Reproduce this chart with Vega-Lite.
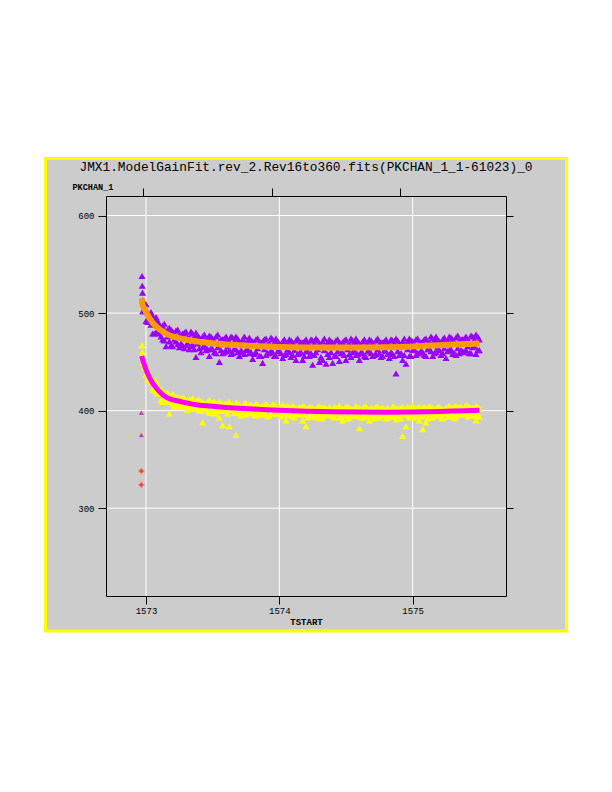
{
"$schema": "https://vega.github.io/schema/vega-lite/v6.json",
"width": 400, "height": 400,
"autosize": {"type": "none"},
"padding": {"left": 106, "top": 196, "right": 106, "bottom": 196},
"background": "white",
"title": {"text": "JMX1.ModelGainFit.rev_2.Rev16to360.fits(PKCHAN_1_1-61023)_0", "font": "Liberation Mono", "fontSize": 12.8, "fontWeight": "normal", "color": "black", "anchor": "middle", "baseline": "bottom", "offset": 15, "dy": 45},
"config": {"view": {"stroke": null}, "axis": {"domainColor": "black", "tickColor": "black", "labelColor": "black", "titleColor": "black", "grid": false, "domainWidth": 1, "tickWidth": 1}},
"datasets": {
"pu": [{"t":1572.97,"v":538},{"t":1572.972,"v":528},{"t":1572.974,"v":521},
{"t":1572.975,"v":513},{"t":1572.975,"v":502},{"t":1573.0,"v":509},{"t":1573.0,"v":492},{"t":1573.025,"v":498},{"t":1573.025,"v":491},{"t":1573.05,"v":497},{"t":1573.05,"v":479},{"t":1573.075,"v":496},{"t":1573.075,"v":480},{"t":1573.1,"v":488},{"t":1573.1,"v":479},{"t":1573.125,"v":487},{"t":1573.125,"v":473},{"t":1573.15,"v":481},{"t":1573.15,"v":466},{"t":1573.175,"v":485},{"t":1573.175,"v":471},{"t":1573.2,"v":481},{"t":1573.2,"v":466},{"t":1573.225,"v":482},{"t":1573.225,"v":471},{"t":1573.25,"v":477},{"t":1573.25,"v":465},{"t":1573.275,"v":479},{"t":1573.275,"v":467},{"t":1573.3,"v":481},{"t":1573.3,"v":467},{"t":1573.325,"v":475},{"t":1573.325,"v":463},{"t":1573.35,"v":479},{"t":1573.35,"v":468},{"t":1573.375,"v":480},{"t":1573.375,"v":455},{"t":1573.4,"v":475},{"t":1573.4,"v":464},{"t":1573.425,"v":476},{"t":1573.425,"v":465},{"t":1573.45,"v":472},{"t":1573.45,"v":462},{"t":1573.475,"v":477},{"t":1573.475,"v":456},{"t":1573.5,"v":474},{"t":1573.5,"v":463},{"t":1573.525,"v":476},{"t":1573.525,"v":459},{"t":1573.55,"v":471},{"t":1573.55,"v":450},{"t":1573.575,"v":473},{"t":1573.575,"v":459},{"t":1573.6,"v":476},{"t":1573.6,"v":461},{"t":1573.625,"v":471},{"t":1573.625,"v":462},{"t":1573.65,"v":475},{"t":1573.65,"v":459},{"t":1573.675,"v":476},{"t":1573.675,"v":463},{"t":1573.7,"v":471},{"t":1573.7,"v":456},{"t":1573.725,"v":473},{"t":1573.725,"v":460},{"t":1573.75,"v":469},{"t":1573.75,"v":462},{"t":1573.775,"v":475},{"t":1573.775,"v":459},{"t":1573.8,"v":471},{"t":1573.8,"v":453},{"t":1573.825,"v":473},{"t":1573.825,"v":460},{"t":1573.85,"v":469},{"t":1573.85,"v":456},{"t":1573.875,"v":471},{"t":1573.875,"v":449},{"t":1573.9,"v":474},{"t":1573.9,"v":457},{"t":1573.925,"v":469},{"t":1573.925,"v":459},{"t":1573.95,"v":473},{"t":1573.95,"v":460},{"t":1573.975,"v":474},{"t":1573.975,"v":456},{"t":1574.0,"v":469},{"t":1574.0,"v":461},{"t":1574.025,"v":471},{"t":1574.025,"v":454},{"t":1574.05,"v":467},{"t":1574.05,"v":458},{"t":1574.075,"v":473},{"t":1574.075,"v":460},{"t":1574.1,"v":470},{"t":1574.1,"v":457},{"t":1574.125,"v":472},{"t":1574.125,"v":452},{"t":1574.15,"v":468},{"t":1574.15,"v":459},{"t":1574.175,"v":470},{"t":1574.175,"v":452},{"t":1574.2,"v":473},{"t":1574.2,"v":461},{"t":1574.225,"v":468},{"t":1574.225,"v":456},{"t":1574.25,"v":472},{"t":1574.25,"v":447},{"t":1574.275,"v":474},{"t":1574.275,"v":460},{"t":1574.3,"v":469},{"t":1574.3,"v":450},{"t":1574.325,"v":471},{"t":1574.325,"v":452},{"t":1574.35,"v":467},{"t":1574.35,"v":448},{"t":1574.375,"v":473},{"t":1574.375,"v":455},{"t":1574.4,"v":470},{"t":1574.4,"v":449},{"t":1574.425,"v":472},{"t":1574.425,"v":456},{"t":1574.45,"v":468},{"t":1574.45,"v":451},{"t":1574.475,"v":470},{"t":1574.475,"v":459},{"t":1574.5,"v":473},{"t":1574.5,"v":452},{"t":1574.525,"v":468},{"t":1574.525,"v":458},{"t":1574.55,"v":472},{"t":1574.55,"v":460},{"t":1574.575,"v":474},{"t":1574.575,"v":457},{"t":1574.6,"v":469},{"t":1574.6,"v":452},{"t":1574.625,"v":471},{"t":1574.625,"v":459},{"t":1574.65,"v":467},{"t":1574.65,"v":455},{"t":1574.675,"v":473},{"t":1574.675,"v":461},{"t":1574.7,"v":470},{"t":1574.7,"v":456},{"t":1574.725,"v":472},{"t":1574.725,"v":458},{"t":1574.75,"v":468},{"t":1574.75,"v":459},{"t":1574.775,"v":470},{"t":1574.775,"v":456},{"t":1574.8,"v":473},{"t":1574.8,"v":461},{"t":1574.825,"v":468},{"t":1574.825,"v":454},{"t":1574.85,"v":472},{"t":1574.85,"v":458},{"t":1574.875,"v":474},{"t":1574.875,"v":438},{"t":1574.9,"v":469},{"t":1574.9,"v":457},{"t":1574.925,"v":471},{"t":1574.925,"v":452},{"t":1574.95,"v":468},{"t":1574.95,"v":448},{"t":1574.975,"v":474},{"t":1574.975,"v":456},{"t":1575.0,"v":471},{"t":1575.0,"v":462},{"t":1575.025,"v":473},{"t":1575.025,"v":457},{"t":1575.05,"v":469},{"t":1575.05,"v":459},{"t":1575.075,"v":471},{"t":1575.075,"v":460},{"t":1575.1,"v":474},{"t":1575.1,"v":456},{"t":1575.125,"v":470},{"t":1575.125,"v":463},{"t":1575.15,"v":474},{"t":1575.15,"v":456},{"t":1575.175,"v":476},{"t":1575.175,"v":460},{"t":1575.2,"v":471},{"t":1575.2,"v":462},{"t":1575.225,"v":473},{"t":1575.225,"v":459},{"t":1575.25,"v":469},{"t":1575.25,"v":454},{"t":1575.275,"v":476},{"t":1575.275,"v":462},{"t":1575.3,"v":473},{"t":1575.3,"v":458},{"t":1575.325,"v":475},{"t":1575.325,"v":457},{"t":1575.35,"v":471},{"t":1575.35,"v":459},{"t":1575.375,"v":473},{"t":1575.375,"v":461},{"t":1575.4,"v":476},{"t":1575.4,"v":462},{"t":1575.425,"v":471},{"t":1575.425,"v":459},{"t":1575.45,"v":476},{"t":1575.45,"v":465},{"t":1575.475,"v":478},{"t":1575.475,"v":458},{"t":1575.5,"v":473},{"t":1575.5,"v":462},
{"t":1572.9875,"v":511},{"t":1572.9875,"v":502},{"t":1573.0125,"v":501},{"t":1573.0125,"v":491},{"t":1573.0375,"v":501},{"t":1573.0375,"v":488},{"t":1573.0625,"v":492},{"t":1573.0625,"v":479},{"t":1573.0875,"v":492},{"t":1573.0875,"v":481},{"t":1573.1125,"v":484},{"t":1573.1125,"v":476},{"t":1573.1375,"v":489},{"t":1573.1375,"v":472},{"t":1573.1625,"v":483},{"t":1573.1625,"v":476},{"t":1573.1875,"v":483},{"t":1573.1875,"v":467},{"t":1573.2125,"v":479},{"t":1573.2125,"v":473},{"t":1573.2375,"v":483},{"t":1573.2375,"v":468},{"t":1573.2625,"v":478},{"t":1573.2625,"v":469},{"t":1573.2875,"v":480},{"t":1573.2875,"v":464},{"t":1573.3125,"v":475},{"t":1573.3125,"v":469},{"t":1573.3375,"v":481},{"t":1573.3375,"v":466},{"t":1573.3625,"v":476},{"t":1573.3625,"v":463},{"t":1573.3875,"v":477},{"t":1573.3875,"v":469},{"t":1573.4125,"v":473},{"t":1573.4125,"v":460},{"t":1573.4375,"v":478},{"t":1573.4375,"v":467},{"t":1573.4625,"v":474},{"t":1573.4625,"v":463},{"t":1573.4875,"v":476},{"t":1573.4875,"v":464},{"t":1573.5125,"v":471},{"t":1573.5125,"v":460},{"t":1573.5375,"v":478},{"t":1573.5375,"v":465},{"t":1573.5625,"v":473},{"t":1573.5625,"v":462},{"t":1573.5875,"v":474},{"t":1573.5875,"v":460},{"t":1573.6125,"v":471},{"t":1573.6125,"v":466},{"t":1573.6375,"v":476},{"t":1573.6375,"v":458},{"t":1573.6625,"v":471},{"t":1573.6625,"v":464},{"t":1573.6875,"v":474},{"t":1573.6875,"v":460},{"t":1573.7125,"v":469},{"t":1573.7125,"v":462},{"t":1573.7375,"v":476},{"t":1573.7375,"v":458},{"t":1573.7625,"v":472},{"t":1573.7625,"v":463},{"t":1573.7875,"v":472},{"t":1573.7875,"v":460},{"t":1573.8125,"v":469},{"t":1573.8125,"v":458},{"t":1573.8375,"v":474},{"t":1573.8375,"v":464},{"t":1573.8625,"v":470},{"t":1573.8625,"v":456},{"t":1573.8875,"v":473},{"t":1573.8875,"v":463},{"t":1573.9125,"v":468},{"t":1573.9125,"v":459},{"t":1573.9375,"v":475},{"t":1573.9375,"v":461},{"t":1573.9625,"v":470},{"t":1573.9625,"v":456},{"t":1573.9875,"v":471},{"t":1573.9875,"v":461},{"t":1574.0125,"v":468},{"t":1574.0125,"v":459},{"t":1574.0375,"v":473},{"t":1574.0375,"v":457},{"t":1574.0625,"v":469},{"t":1574.0625,"v":463},{"t":1574.0875,"v":472},{"t":1574.0875,"v":455},{"t":1574.1125,"v":467},{"t":1574.1125,"v":462},{"t":1574.1375,"v":474},{"t":1574.1375,"v":458},{"t":1574.1625,"v":470},{"t":1574.1625,"v":460},{"t":1574.1875,"v":471},{"t":1574.1875,"v":456},{"t":1574.2125,"v":468},{"t":1574.2125,"v":461},{"t":1574.2375,"v":473},{"t":1574.2375,"v":459},{"t":1574.2625,"v":469},{"t":1574.2625,"v":457},{"t":1574.2875,"v":472},{"t":1574.2875,"v":463},{"t":1574.3125,"v":467},{"t":1574.3125,"v":455},{"t":1574.3375,"v":474},{"t":1574.3375,"v":462},{"t":1574.3625,"v":470},{"t":1574.3625,"v":458},{"t":1574.3875,"v":471},{"t":1574.3875,"v":460},{"t":1574.4125,"v":468},{"t":1574.4125,"v":456},{"t":1574.4375,"v":473},{"t":1574.4375,"v":461},{"t":1574.4625,"v":469},{"t":1574.4625,"v":459},{"t":1574.4875,"v":472},{"t":1574.4875,"v":457},{"t":1574.5125,"v":467},{"t":1574.5125,"v":463},{"t":1574.5375,"v":474},{"t":1574.5375,"v":455},{"t":1574.5625,"v":470},{"t":1574.5625,"v":462},{"t":1574.5875,"v":471},{"t":1574.5875,"v":458},{"t":1574.6125,"v":468},{"t":1574.6125,"v":460},{"t":1574.6375,"v":473},{"t":1574.6375,"v":456},{"t":1574.6625,"v":469},{"t":1574.6625,"v":461},{"t":1574.6875,"v":472},{"t":1574.6875,"v":459},{"t":1574.7125,"v":467},{"t":1574.7125,"v":457},{"t":1574.7375,"v":474},{"t":1574.7375,"v":463},{"t":1574.7625,"v":470},{"t":1574.7625,"v":455},{"t":1574.7875,"v":471},{"t":1574.7875,"v":462},{"t":1574.8125,"v":468},{"t":1574.8125,"v":458},{"t":1574.8375,"v":473},{"t":1574.8375,"v":460},{"t":1574.8625,"v":469},{"t":1574.8625,"v":456},{"t":1574.8875,"v":472},{"t":1574.8875,"v":461},{"t":1574.9125,"v":467},{"t":1574.9125,"v":459},{"t":1574.9375,"v":474},{"t":1574.9375,"v":457},{"t":1574.9625,"v":470},{"t":1574.9625,"v":463},{"t":1574.9875,"v":472},{"t":1574.9875,"v":456},{"t":1575.0125,"v":469},{"t":1575.0125,"v":463},{"t":1575.0375,"v":474},{"t":1575.0375,"v":459},{"t":1575.0625,"v":470},{"t":1575.0625,"v":461},{"t":1575.0875,"v":473},{"t":1575.0875,"v":457},{"t":1575.1125,"v":469},{"t":1575.1125,"v":463},{"t":1575.1375,"v":476},{"t":1575.1375,"v":461},{"t":1575.1625,"v":472},{"t":1575.1625,"v":459},{"t":1575.1875,"v":473},{"t":1575.1875,"v":465},{"t":1575.2125,"v":470},{"t":1575.2125,"v":457},{"t":1575.2375,"v":475},{"t":1575.2375,"v":464},{"t":1575.2625,"v":472},{"t":1575.2625,"v":461},{"t":1575.2875,"v":475},{"t":1575.2875,"v":463},{"t":1575.3125,"v":470},{"t":1575.3125,"v":459},{"t":1575.3375,"v":477},{"t":1575.3375,"v":464},{"t":1575.3625,"v":473},{"t":1575.3625,"v":462},{"t":1575.3875,"v":474},{"t":1575.3875,"v":460},{"t":1575.4125,"v":471},{"t":1575.4125,"v":466},{"t":1575.4375,"v":477},{"t":1575.4375,"v":459},{"t":1575.4625,"v":473},{"t":1575.4625,"v":466},{"t":1575.4875,"v":476},{"t":1575.4875,"v":462}],
"ye": [{"t":1572.97,"v":467},{"t":1572.972,"v":460},
{"t":1572.975,"v":455},{"t":1572.975,"v":449},{"t":1573.0,"v":447},{"t":1573.0,"v":437},{"t":1573.025,"v":436},{"t":1573.025,"v":432},{"t":1573.05,"v":432},{"t":1573.05,"v":422},{"t":1573.075,"v":430},{"t":1573.075,"v":420},{"t":1573.1,"v":423},{"t":1573.1,"v":417},{"t":1573.125,"v":421},{"t":1573.125,"v":409},{"t":1573.15,"v":418},{"t":1573.15,"v":412},{"t":1573.175,"v":414},{"t":1573.175,"v":397},{"t":1573.2,"v":417},{"t":1573.2,"v":407},{"t":1573.225,"v":414},{"t":1573.225,"v":404},{"t":1573.25,"v":413},{"t":1573.25,"v":407},{"t":1573.275,"v":414},{"t":1573.275,"v":405},{"t":1573.3,"v":410},{"t":1573.3,"v":406},{"t":1573.325,"v":411},{"t":1573.325,"v":404},{"t":1573.35,"v":413},{"t":1573.35,"v":402},{"t":1573.375,"v":409},{"t":1573.375,"v":404},{"t":1573.4,"v":411},{"t":1573.4,"v":400},{"t":1573.425,"v":409},{"t":1573.425,"v":388},{"t":1573.45,"v":407},{"t":1573.45,"v":402},{"t":1573.475,"v":411},{"t":1573.475,"v":398},{"t":1573.5,"v":408},{"t":1573.5,"v":402},{"t":1573.525,"v":407},{"t":1573.525,"v":399},{"t":1573.55,"v":409},{"t":1573.55,"v":393},{"t":1573.575,"v":406},{"t":1573.575,"v":385},{"t":1573.6,"v":407},{"t":1573.6,"v":400},{"t":1573.625,"v":409},{"t":1573.625,"v":384},{"t":1573.65,"v":406},{"t":1573.65,"v":401},{"t":1573.675,"v":408},{"t":1573.675,"v":375},{"t":1573.7,"v":406},{"t":1573.7,"v":397},{"t":1573.725,"v":404},{"t":1573.725,"v":400},{"t":1573.75,"v":408},{"t":1573.75,"v":396},{"t":1573.775,"v":406},{"t":1573.775,"v":398},{"t":1573.8,"v":405},{"t":1573.8,"v":399},{"t":1573.825,"v":407},{"t":1573.825,"v":395},{"t":1573.85,"v":403},{"t":1573.85,"v":399},{"t":1573.875,"v":405},{"t":1573.875,"v":396},{"t":1573.9,"v":407},{"t":1573.9,"v":397},{"t":1573.925,"v":404},{"t":1573.925,"v":395},{"t":1573.95,"v":406},{"t":1573.95,"v":398},{"t":1573.975,"v":405},{"t":1573.975,"v":397},{"t":1574.0,"v":402},{"t":1574.0,"v":398},{"t":1574.025,"v":406},{"t":1574.025,"v":397},{"t":1574.05,"v":404},{"t":1574.05,"v":390},{"t":1574.075,"v":403},{"t":1574.075,"v":398},{"t":1574.1,"v":405},{"t":1574.1,"v":394},{"t":1574.125,"v":402},{"t":1574.125,"v":396},{"t":1574.15,"v":404},{"t":1574.15,"v":397},{"t":1574.175,"v":405},{"t":1574.175,"v":390},{"t":1574.2,"v":402},{"t":1574.2,"v":384},{"t":1574.225,"v":404},{"t":1574.225,"v":394},{"t":1574.25,"v":403},{"t":1574.25,"v":395},{"t":1574.275,"v":401},{"t":1574.275,"v":393},{"t":1574.3,"v":405},{"t":1574.3,"v":396},{"t":1574.325,"v":403},{"t":1574.325,"v":393},{"t":1574.35,"v":402},{"t":1574.35,"v":397},{"t":1574.375,"v":404},{"t":1574.375,"v":396},{"t":1574.4,"v":401},{"t":1574.4,"v":394},{"t":1574.425,"v":403},{"t":1574.425,"v":397},{"t":1574.45,"v":405},{"t":1574.45,"v":393},{"t":1574.475,"v":402},{"t":1574.475,"v":390},{"t":1574.5,"v":404},{"t":1574.5,"v":396},{"t":1574.525,"v":403},{"t":1574.525,"v":392},{"t":1574.55,"v":401},{"t":1574.55,"v":397},{"t":1574.575,"v":405},{"t":1574.575,"v":394},{"t":1574.6,"v":403},{"t":1574.6,"v":382},{"t":1574.625,"v":402},{"t":1574.625,"v":393},{"t":1574.65,"v":404},{"t":1574.65,"v":396},{"t":1574.675,"v":400},{"t":1574.675,"v":390},{"t":1574.7,"v":402},{"t":1574.7,"v":396},{"t":1574.725,"v":404},{"t":1574.725,"v":395},{"t":1574.75,"v":401},{"t":1574.75,"v":393},{"t":1574.775,"v":403},{"t":1574.775,"v":396},{"t":1574.8,"v":402},{"t":1574.8,"v":392},{"t":1574.825,"v":400},{"t":1574.825,"v":394},{"t":1574.85,"v":404},{"t":1574.85,"v":395},{"t":1574.875,"v":402},{"t":1574.875,"v":391},{"t":1574.9,"v":402},{"t":1574.9,"v":397},{"t":1574.925,"v":404},{"t":1574.925,"v":374},{"t":1574.95,"v":401},{"t":1574.95,"v":384},{"t":1574.975,"v":403},{"t":1574.975,"v":393},{"t":1575.0,"v":405},{"t":1575.0,"v":396},{"t":1575.025,"v":402},{"t":1575.025,"v":395},{"t":1575.05,"v":404},{"t":1575.05,"v":390},{"t":1575.075,"v":403},{"t":1575.075,"v":381},{"t":1575.1,"v":401},{"t":1575.1,"v":388},{"t":1575.125,"v":405},{"t":1575.125,"v":397},{"t":1575.15,"v":403},{"t":1575.15,"v":393},{"t":1575.175,"v":402},{"t":1575.175,"v":395},{"t":1575.2,"v":404},{"t":1575.2,"v":396},{"t":1575.225,"v":401},{"t":1575.225,"v":392},{"t":1575.25,"v":403},{"t":1575.25,"v":397},{"t":1575.275,"v":405},{"t":1575.275,"v":394},{"t":1575.3,"v":403},{"t":1575.3,"v":396},{"t":1575.325,"v":405},{"t":1575.325,"v":394},{"t":1575.35,"v":404},{"t":1575.35,"v":397},{"t":1575.375,"v":402},{"t":1575.375,"v":396},{"t":1575.4,"v":406},{"t":1575.4,"v":398},{"t":1575.425,"v":404},{"t":1575.425,"v":397},{"t":1575.45,"v":403},{"t":1575.45,"v":395},{"t":1575.475,"v":405},{"t":1575.475,"v":390},{"t":1575.5,"v":402},{"t":1575.5,"v":394},
{"t":1572.9875,"v":449},{"t":1572.9875,"v":444},{"t":1573.0125,"v":442},{"t":1573.0125,"v":432},{"t":1573.0375,"v":432},{"t":1573.0375,"v":429},{"t":1573.0625,"v":431},{"t":1573.0625,"v":421},{"t":1573.0875,"v":425},{"t":1573.0875,"v":418},{"t":1573.1125,"v":422},{"t":1573.1125,"v":411},{"t":1573.1375,"v":417},{"t":1573.1375,"v":412},{"t":1573.1625,"v":418},{"t":1573.1625,"v":409},{"t":1573.1875,"v":415},{"t":1573.1875,"v":409},{"t":1573.2125,"v":413},{"t":1573.2125,"v":405},{"t":1573.2375,"v":414},{"t":1573.2375,"v":408},{"t":1573.2625,"v":410},{"t":1573.2625,"v":404},{"t":1573.2875,"v":413},{"t":1573.2875,"v":404},{"t":1573.3125,"v":411},{"t":1573.3125,"v":401},{"t":1573.3375,"v":411},{"t":1573.3375,"v":404},{"t":1573.3625,"v":408},{"t":1573.3625,"v":402},{"t":1573.3875,"v":411},{"t":1573.3875,"v":403},{"t":1573.4125,"v":409},{"t":1573.4125,"v":400},{"t":1573.4375,"v":407},{"t":1573.4375,"v":403},{"t":1573.4625,"v":409},{"t":1573.4625,"v":400},{"t":1573.4875,"v":406},{"t":1573.4875,"v":401},{"t":1573.5125,"v":409},{"t":1573.5125,"v":397},{"t":1573.5375,"v":407},{"t":1573.5375,"v":401},{"t":1573.5625,"v":408},{"t":1573.5625,"v":400},{"t":1573.5875,"v":406},{"t":1573.5875,"v":401},{"t":1573.6125,"v":408},{"t":1573.6125,"v":397},{"t":1573.6375,"v":406},{"t":1573.6375,"v":401},{"t":1573.6625,"v":405},{"t":1573.6625,"v":398},{"t":1573.6875,"v":407},{"t":1573.6875,"v":399},{"t":1573.7125,"v":403},{"t":1573.7125,"v":395},{"t":1573.7375,"v":407},{"t":1573.7375,"v":399},{"t":1573.7625,"v":405},{"t":1573.7625,"v":398},{"t":1573.7875,"v":406},{"t":1573.7875,"v":399},{"t":1573.8125,"v":404},{"t":1573.8125,"v":396},{"t":1573.8375,"v":406},{"t":1573.8375,"v":399},{"t":1573.8625,"v":404},{"t":1573.8625,"v":396},{"t":1573.8875,"v":403},{"t":1573.8875,"v":397},{"t":1573.9125,"v":405},{"t":1573.9125,"v":394},{"t":1573.9375,"v":402},{"t":1573.9375,"v":398},{"t":1573.9625,"v":406},{"t":1573.9625,"v":397},{"t":1573.9875,"v":403},{"t":1573.9875,"v":397},{"t":1574.0125,"v":404},{"t":1574.0125,"v":394},{"t":1574.0375,"v":402},{"t":1574.0375,"v":398},{"t":1574.0625,"v":405},{"t":1574.0625,"v":395},{"t":1574.0875,"v":403},{"t":1574.0875,"v":396},{"t":1574.1125,"v":404},{"t":1574.1125,"v":393},{"t":1574.1375,"v":402},{"t":1574.1375,"v":397},{"t":1574.1625,"v":401},{"t":1574.1625,"v":396},{"t":1574.1875,"v":404},{"t":1574.1875,"v":396},{"t":1574.2125,"v":402},{"t":1574.2125,"v":393},{"t":1574.2375,"v":403},{"t":1574.2375,"v":397},{"t":1574.2625,"v":401},{"t":1574.2625,"v":394},{"t":1574.2875,"v":404},{"t":1574.2875,"v":395},{"t":1574.3125,"v":402},{"t":1574.3125,"v":392},{"t":1574.3375,"v":403},{"t":1574.3375,"v":396},{"t":1574.3625,"v":401},{"t":1574.3625,"v":395},{"t":1574.3875,"v":400},{"t":1574.3875,"v":396},{"t":1574.4125,"v":404},{"t":1574.4125,"v":393},{"t":1574.4375,"v":402},{"t":1574.4375,"v":397},{"t":1574.4625,"v":403},{"t":1574.4625,"v":394},{"t":1574.4875,"v":401},{"t":1574.4875,"v":395},{"t":1574.5125,"v":404},{"t":1574.5125,"v":392},{"t":1574.5375,"v":402},{"t":1574.5375,"v":396},{"t":1574.5625,"v":401},{"t":1574.5625,"v":395},{"t":1574.5875,"v":403},{"t":1574.5875,"v":396},{"t":1574.6125,"v":400},{"t":1574.6125,"v":393},{"t":1574.6375,"v":404},{"t":1574.6375,"v":397},{"t":1574.6625,"v":402},{"t":1574.6625,"v":394},{"t":1574.6875,"v":403},{"t":1574.6875,"v":395},{"t":1574.7125,"v":401},{"t":1574.7125,"v":392},{"t":1574.7375,"v":404},{"t":1574.7375,"v":396},{"t":1574.7625,"v":402},{"t":1574.7625,"v":395},{"t":1574.7875,"v":401},{"t":1574.7875,"v":396},{"t":1574.8125,"v":403},{"t":1574.8125,"v":393},{"t":1574.8375,"v":400},{"t":1574.8375,"v":397},{"t":1574.8625,"v":404},{"t":1574.8625,"v":394},{"t":1574.8875,"v":402},{"t":1574.8875,"v":395},{"t":1574.9125,"v":403},{"t":1574.9125,"v":392},{"t":1574.9375,"v":401},{"t":1574.9375,"v":396},{"t":1574.9625,"v":404},{"t":1574.9625,"v":395},{"t":1574.9875,"v":402},{"t":1574.9875,"v":396},{"t":1575.0125,"v":401},{"t":1575.0125,"v":393},{"t":1575.0375,"v":403},{"t":1575.0375,"v":397},{"t":1575.0625,"v":400},{"t":1575.0625,"v":394},{"t":1575.0875,"v":404},{"t":1575.0875,"v":395},{"t":1575.1125,"v":402},{"t":1575.1125,"v":392},{"t":1575.1375,"v":403},{"t":1575.1375,"v":396},{"t":1575.1625,"v":401},{"t":1575.1625,"v":395},{"t":1575.1875,"v":404},{"t":1575.1875,"v":396},{"t":1575.2125,"v":402},{"t":1575.2125,"v":393},{"t":1575.2375,"v":401},{"t":1575.2375,"v":397},{"t":1575.2625,"v":403},{"t":1575.2625,"v":394},{"t":1575.2875,"v":400},{"t":1575.2875,"v":395},{"t":1575.3125,"v":404},{"t":1575.3125,"v":392},{"t":1575.3375,"v":403},{"t":1575.3375,"v":397},{"t":1575.3625,"v":404},{"t":1575.3625,"v":396},{"t":1575.3875,"v":402},{"t":1575.3875,"v":397},{"t":1575.4125,"v":405},{"t":1575.4125,"v":394},{"t":1575.4375,"v":403},{"t":1575.4375,"v":398},{"t":1575.4625,"v":402},{"t":1575.4625,"v":395},{"t":1575.4875,"v":404},{"t":1575.4875,"v":396}],
"of": [{"t":1572.968,"v":515},{"t":1572.975,"v":508},{"t":1573.0,"v":501},{"t":1573.025,"v":495},{"t":1573.05,"v":490},{"t":1573.075,"v":486.5},{"t":1573.1,"v":483.5},{"t":1573.125,"v":481},{"t":1573.15,"v":479},{"t":1573.175,"v":477.3},{"t":1573.2,"v":476},{"t":1573.25,"v":474.3},{"t":1573.3,"v":472.8},{"t":1573.35,"v":471.7},{"t":1573.4,"v":470.6},{"t":1573.45,"v":469.8},{"t":1573.5,"v":469},{"t":1573.6,"v":467.9},{"t":1573.7,"v":467},{"t":1573.8,"v":466.3},{"t":1573.9,"v":465.7},{"t":1574.0,"v":465.3},{"t":1574.1,"v":465},{"t":1574.2,"v":464.8},{"t":1574.4,"v":464.7},{"t":1574.6,"v":464.7},{"t":1574.8,"v":465},{"t":1574.9,"v":465.3},{"t":1575.0,"v":465.75},{"t":1575.1,"v":466.4},{"t":1575.2,"v":467.1},{"t":1575.3,"v":467.75},{"t":1575.4,"v":468.3},{"t":1575.5,"v":468.7}],
"mf": [{"t":1572.968,"v":456},{"t":1572.975,"v":452},{"t":1573.0,"v":442},{"t":1573.025,"v":434},{"t":1573.05,"v":428},{"t":1573.075,"v":423.5},{"t":1573.1,"v":419.5},{"t":1573.125,"v":416.3},{"t":1573.15,"v":414},{"t":1573.175,"v":412.3},{"t":1573.2,"v":411},{"t":1573.25,"v":409.6},{"t":1573.3,"v":408},{"t":1573.35,"v":406.7},{"t":1573.4,"v":405.6},{"t":1573.45,"v":405},{"t":1573.5,"v":404.4},{"t":1573.6,"v":403.3},{"t":1573.7,"v":402.4},{"t":1573.8,"v":401.7},{"t":1573.9,"v":401},{"t":1574.0,"v":400.3},{"t":1574.1,"v":399.8},{"t":1574.2,"v":399.3},{"t":1574.4,"v":398.8},{"t":1574.6,"v":398.5},{"t":1574.8,"v":398.4},{"t":1575.0,"v":398.6},{"t":1575.1,"v":398.8},{"t":1575.2,"v":399.1},{"t":1575.3,"v":399.5},{"t":1575.4,"v":399.9},{"t":1575.5,"v":400.3}],
"ot": [{"t":1572.965,"v":398},{"t":1572.965,"v":375}],
"oc": [{"t":1572.965,"v":338},{"t":1572.965,"v":324}],
"gx": [{"t":1573},{"t":1574},{"t":1575}],
"gy": [{"v":300},{"v":400},{"v":500},{"v":600}]
},
"layer": [
{"layer": [
{"data": {"values": [{}]}, "mark": {"type": "rect", "fill": "#cccccc", "stroke": "#ffff00", "strokeWidth": 3},
 "encoding": {"x": {"datum": 1572.246, "type": "quantitative", "scale": {"domain": [1572.7, 1575.7], "nice": false, "zero": false}, "axis": null}, "x2": {"datum": 1576.154},
 "y": {"datum": 658.44, "type": "quantitative", "scale": {"domain": [210, 620], "nice": false, "zero": false}, "axis": null}, "y2": {"datum": 174.1}}},
{"data": {"name": "gx"}, "mark": {"type": "rule", "color": "white", "strokeWidth": 1},
 "encoding": {"x": {"field": "t", "type": "quantitative", "scale": {"domain": [1572.7, 1575.7], "nice": false, "zero": false}, "axis": null}}},
{"data": {"name": "gy"}, "mark": {"type": "rule", "color": "white", "strokeWidth": 1},
 "encoding": {"y": {"field": "v", "type": "quantitative", "scale": {"domain": [210, 620], "nice": false, "zero": false}, "axis": null}}},
{"data": {"name": "ye"}, "mark": {"type": "point", "shape": "triangle-up", "filled": true, "color": "#ffff00", "size": 50, "opacity": 1},
 "encoding": {"x": {"field": "t", "type": "quantitative", "scale": {"domain": [1572.7, 1575.7], "nice": false, "zero": false}, "axis": null},
 "y": {"field": "v", "type": "quantitative", "scale": {"domain": [210, 620], "nice": false, "zero": false}, "axis": null}}},
{"data": {"name": "pu"}, "mark": {"type": "point", "shape": "triangle-up", "filled": true, "color": "#9900ff", "size": 50, "opacity": 1},
 "encoding": {"x": {"field": "t", "type": "quantitative", "scale": {"domain": [1572.7, 1575.7], "nice": false, "zero": false}, "axis": null},
 "y": {"field": "v", "type": "quantitative", "scale": {"domain": [210, 620], "nice": false, "zero": false}, "axis": null}}},
{"data": {"name": "ot"}, "mark": {"type": "point", "shape": "triangle-up", "filled": true, "color": "#ffff00", "size": 40},
 "encoding": {"x": {"field": "t", "type": "quantitative", "scale": {"domain": [1572.7, 1575.7], "nice": false, "zero": false}, "axis": null},
 "y": {"field": "v", "type": "quantitative", "scale": {"domain": [210, 620], "nice": false, "zero": false}, "axis": null}}},
{"data": {"name": "ot"}, "mark": {"type": "point", "shape": "triangle-up", "filled": true, "color": "#9900ff", "size": 28, "opacity": 0.7},
 "encoding": {"x": {"field": "t", "type": "quantitative", "scale": {"domain": [1572.7, 1575.7], "nice": false, "zero": false}, "axis": null},
 "y": {"field": "v", "type": "quantitative", "scale": {"domain": [210, 620], "nice": false, "zero": false}, "axis": null}}},
{"data": {"name": "of"}, "mark": {"type": "line", "color": "#ff9900", "strokeWidth": 6},
 "encoding": {"x": {"field": "t", "type": "quantitative", "scale": {"domain": [1572.7, 1575.7], "nice": false, "zero": false}, "axis": null},
 "y": {"field": "v", "type": "quantitative", "scale": {"domain": [210, 620], "nice": false, "zero": false}, "axis": null}}},
{"data": {"name": "mf"}, "mark": {"type": "line", "color": "#ff00ff", "strokeWidth": 5},
 "encoding": {"x": {"field": "t", "type": "quantitative", "scale": {"domain": [1572.7, 1575.7], "nice": false, "zero": false}, "axis": null},
 "y": {"field": "v", "type": "quantitative", "scale": {"domain": [210, 620], "nice": false, "zero": false}, "axis": null}}},
{"data": {"name": "oc"}, "mark": {"type": "point", "shape": "cross", "filled": true, "color": "#ff9900", "size": 40},
 "encoding": {"x": {"field": "t", "type": "quantitative", "scale": {"domain": [1572.7, 1575.7], "nice": false, "zero": false}, "axis": null},
 "y": {"field": "v", "type": "quantitative", "scale": {"domain": [210, 620], "nice": false, "zero": false}, "axis": null}}},
{"data": {"name": "oc"}, "mark": {"type": "point", "shape": "cross", "filled": true, "color": "#cc00ff", "size": 16},
 "encoding": {"x": {"field": "t", "type": "quantitative", "scale": {"domain": [1572.7, 1575.7], "nice": false, "zero": false}, "axis": null},
 "y": {"field": "v", "type": "quantitative", "scale": {"domain": [210, 620], "nice": false, "zero": false}, "axis": null}}}
]},
{"data": {"values": [{"tx": 1573, "ty": 400}]}, "mark": {"type": "point", "opacity": 0},
 "encoding": {"x": {"field": "tx", "type": "quantitative", "scale": {"domain": [1572.7, 1575.7], "nice": false, "zero": false},
   "axis": {"orient": "bottom", "zindex": 1, "values": [1573, 1574, 1575], "format": "d", "tickSize": 8, "labelPadding": 2, "labelFont": "Liberation Mono", "labelFontSize": 9, "title": "TSTART", "titleFont": "Liberation Mono", "titleFontSize": 9, "titleFontWeight": "bold", "titlePadding": 2}},
 "y": {"field": "ty", "type": "quantitative", "scale": {"domain": [210, 620], "nice": false, "zero": false},
   "axis": {"orient": "left", "zindex": 1, "values": [300, 400, 500, 600], "format": "d", "tickSize": 8, "labelPadding": 4, "labelFont": "Liberation Mono", "labelFontSize": 9, "title": "PKCHAN_1", "titleAngle": 0, "titleAlign": "left", "titleBaseline": "alphabetic", "titleX": -34, "titleY": -7, "titleFont": "Liberation Mono", "titleFontSize": 8.5, "titleFontWeight": "bold"}}}},
{"data": {"values": [{"tx": 1, "ty": 300}]}, "mark": {"type": "point", "opacity": 0},
 "encoding": {"x": {"field": "tx", "type": "quantitative", "scale": {"domain": [0.7097, 3.8225], "nice": false, "zero": false},
   "axis": {"orient": "top", "zindex": 1, "values": [1, 2, 3], "labels": false, "tickSize": 8, "title": null}},
 "y": {"field": "ty", "type": "quantitative", "scale": {"domain": [210, 620], "nice": false, "zero": false},
   "axis": {"orient": "right", "zindex": 1, "values": [300, 400, 500, 600], "labels": false, "tickSize": 7, "title": null}}}}
],
"resolve": {"scale": {"x": "independent", "y": "independent"}}
}
